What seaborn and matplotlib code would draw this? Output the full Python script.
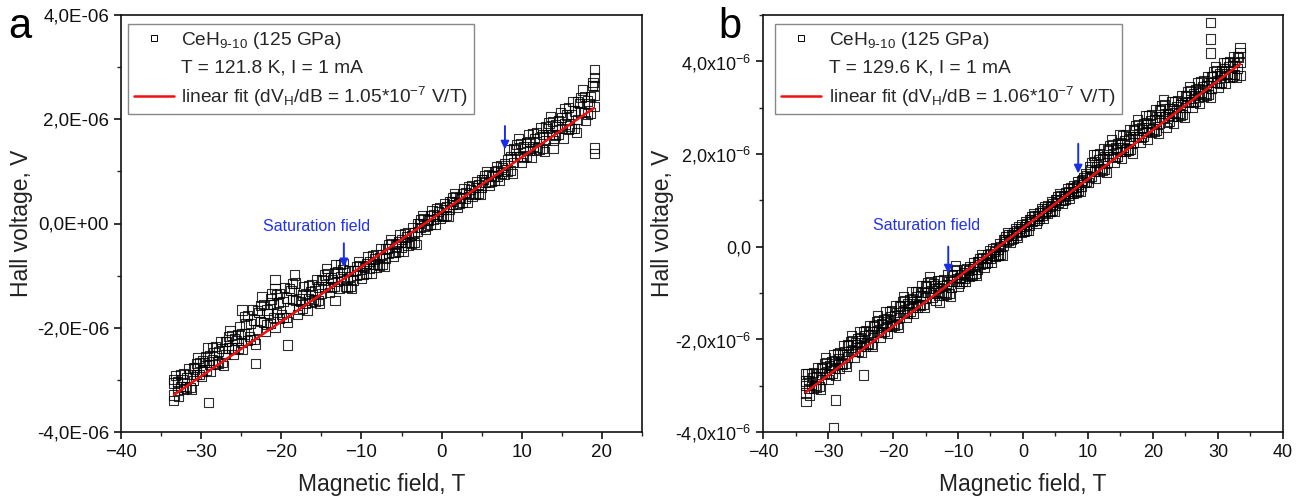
import numpy as np
import pandas as pd
import matplotlib
matplotlib.use("Agg")
import matplotlib.pyplot as plt
import seaborn as sns
from matplotlib.lines import Line2D
from matplotlib.ticker import FixedLocator, FixedFormatter, MultipleLocator

# ---------------- data (field in T, Hall voltage in microvolts) ----------------
FIELD_A = [-33.4, -33.0, -32.6, -32.2, -31.8, -31.4, -31.0, -30.6, -30.2, -29.8,
           -29.4, -29.0, -28.6, -28.2, -27.8, -27.4, -27.0, -26.6, -26.2, -25.8,
           -25.4, -25.0, -24.6, -24.2, -23.8, -23.4, -23.0, -22.6, -22.2, -21.8,
           -21.4, -21.0, -20.6, -20.2, -19.8, -19.4, -19.0, -18.6, -18.2, -17.8,
           -17.4, -17.0, -16.6, -16.2, -15.8, -15.4, -15.0, -14.6, -14.2, -13.8,
           -13.4, -13.0, -12.6, -12.2, -11.8, -11.4, -11.0, -10.6, -10.2, -9.8,
           -9.4, -9.0, -8.6, -8.2, -7.8, -7.4, -7.0, -6.6, -6.2, -5.8,
           -5.4, -5.0, -4.6, -4.2, -3.8, -3.4, -3.0, -2.6, -2.2, -1.8,
           -1.4, -1.0, -0.6, -0.2, 0.2, 0.6, 1.0, 1.4, 1.8, 2.2,
           2.6, 3.0, 3.4, 3.8, 4.2, 4.6, 5.0, 5.4, 5.8, 6.2,
           6.6, 7.0, 7.4, 7.8, 8.2, 8.6, 9.0, 9.4, 9.8, 10.2,
           10.6, 11.0, 11.4, 11.8, 12.2, 12.6, 13.0, 13.4, 13.8, 14.2,
           14.6, 15.0, 15.4, 15.8, 16.2, 16.6, 17.0, 17.4, 17.8, 18.2,
           18.6, 19.0]
HALL_A_UP = [-3.06, -3.20, -2.90, -3.19, -2.96, -3.14, -2.77, -2.89, -2.67, -2.83,
             -2.55, -2.71, -2.38, -2.70, -2.46, -2.66, -2.26, -2.39, -2.15, -2.41,
             -2.13, -2.29, -1.78, -2.25, -1.92, -2.22, -1.67, -1.88, -1.56, -1.94,
             -1.56, -1.80, -1.36, -1.83, -1.50, -1.80, -1.25, -1.46, -1.14, -1.65,
             -1.37, -1.53, -1.20, -1.52, -1.28, -1.48, -1.08, -1.21, -0.97, -1.23,
             -0.95, -1.11, -0.78, -1.10, -1.07, -1.21, -0.90, -0.99, -0.80, -0.98,
             -0.76, -0.87, -0.61, -0.84, -0.65, -0.79, -0.48, -0.57, -0.38, -0.56,
             -0.34, -0.45, -0.19, -0.42, -0.23, -0.37, 0.00, -0.07, 0.10, -0.04,
             0.15, 0.07, 0.28, 0.10, 0.27, 0.16, 0.42, 0.36, 0.52, 0.38,
             0.57, 0.49, 0.70, 0.52, 0.69, 0.58, 0.84, 0.78, 0.94, 0.80,
             0.99, 0.91, 1.12, 0.94, 1.22, 1.02, 1.43, 1.29, 1.53, 1.27,
             1.55, 1.40, 1.72, 1.40, 1.64, 1.44, 1.85, 1.71, 1.95, 1.69,
             1.97, 1.82, 2.21, 1.80, 2.09, 1.83, 2.33, 2.14, 2.43, 2.10,
             2.44, 2.24]
HALL_A_DOWN = [-3.29, -3.04, -3.12, -2.88, -3.16, -2.90, -3.01, -2.69, -2.89, -2.63,
               -2.81, -2.53, -2.62, -2.36, -2.68, -2.40, -2.52, -2.17, -2.39, -2.21,
               -2.39, -2.11, -2.12, -1.77, -2.23, -1.85, -2.04, -1.57, -1.90, -1.66,
               -1.92, -1.55, -1.70, -1.35, -1.81, -1.43, -1.62, -1.15, -1.48, -1.45,
               -1.63, -1.35, -1.44, -1.18, -1.50, -1.22, -1.34, -0.99, -1.21, -1.03,
               -1.21, -0.93, -1.02, -0.76, -1.23, -1.01, -1.09, -0.82, -0.98, -0.83,
               -0.95, -0.73, -0.79, -0.59, -0.81, -0.59, -0.67, -0.40, -0.56, -0.41,
               -0.53, -0.31, -0.37, -0.17, -0.39, -0.17, -0.16, 0.07, -0.05, 0.08,
               -0.01, 0.18, 0.13, 0.31, 0.13, 0.32, 0.27, 0.49, 0.37, 0.50,
               0.41, 0.60, 0.55, 0.73, 0.55, 0.74, 0.69, 0.91, 0.79, 0.92,
               0.83, 1.02, 0.97, 1.15, 1.00, 1.28, 1.17, 1.51, 1.29, 1.47,
               1.29, 1.58, 1.48, 1.74, 1.42, 1.70, 1.59, 1.93, 1.71, 1.89,
               1.71, 2.04, 1.91, 2.22, 1.82, 2.16, 2.00, 2.42, 2.13, 2.35,
               2.12, 2.46]
FIELD_A3 = [-33.2, -32.8, -32.4, -32.0, -31.6, -31.2, -30.8, -30.4, -30.0, -29.6,
            -29.2, -28.8, -28.4, -28.0, -27.6, -27.2, -26.8, -26.4, -26.0, -25.6,
            -25.2, -24.8, -24.4, -24.0, -23.6, -23.2, -22.8, -22.4, -22.0, -21.6,
            -21.2, -20.8, -20.4, -20.0, -19.6, -19.2, -18.8, -18.4, -18.0, -17.6,
            -17.2, -16.8, -16.4, -16.0, -15.6, -15.2, -14.8, -14.4, -14.0, -13.6,
            -13.2, -12.8, -12.4, -12.0, -11.6, -11.2, -10.8, -10.4, -10.0, -9.6,
            -9.2, -8.8, -8.4, -8.0, -7.6, -7.2, -6.8, -6.4, -6.0, -5.6,
            -5.2, -4.8, -4.4, -4.0, -3.6, -3.2, -2.8, -2.4, -2.0, -1.6,
            -1.2, -0.8, -0.4, 0.0, 0.4, 0.8, 1.2, 1.6, 2.0, 2.4,
            2.8, 3.2, 3.6, 4.0, 4.4, 4.8, 5.2, 5.6, 6.0, 6.4,
            6.8, 7.2, 7.6, 8.0, 8.4, 8.8, 9.2, 9.6, 10.0, 10.4,
            10.8, 11.2, 11.6, 12.0, 12.4, 12.8, 13.2, 13.6, 14.0, 14.4,
            14.8, 15.2, 15.6, 16.0, 16.4, 16.8, 17.2, 17.6, 18.0, 18.4,
            18.8]
HALL_A3 = [-2.91, -3.32, -2.99, -3.13, -2.78, -3.19, -2.79, -2.58, -2.93, -2.67,
           -2.39, -2.84, -2.48, -2.64, -2.26, -2.72, -2.27, -2.05, -2.51, -2.25,
           -1.97, -2.42, -1.93, -2.17, -1.65, -2.31, -1.71, -1.41, -2.07, -1.72,
           -1.34, -2.00, -1.51, -1.75, -1.23, -1.89, -1.29, -0.99, -1.75, -1.49,
           -1.21, -1.66, -1.30, -1.46, -1.08, -1.54, -1.09, -0.87, -1.33, -1.07,
           -0.79, -1.24, -0.88, -1.21, -0.91, -1.25, -0.90, -0.73, -1.06, -0.85,
           -0.63, -0.96, -0.68, -0.79, -0.49, -0.83, -0.48, -0.31, -0.64, -0.43,
           -0.21, -0.54, -0.26, -0.37, -0.07, -0.41, 0.00, 0.15, -0.11, 0.06,
           0.25, -0.01, 0.23, 0.15, 0.39, 0.14, 0.42, 0.57, 0.31, 0.48,
           0.67, 0.41, 0.65, 0.57, 0.81, 0.56, 0.84, 0.99, 0.73, 0.90,
           1.09, 0.83, 1.07, 1.04, 1.42, 0.96, 1.41, 1.63, 1.17, 1.43,
           1.71, 1.26, 1.62, 1.46, 1.84, 1.38, 1.83, 2.05, 1.59, 1.85,
           2.13, 1.64, 2.08, 1.87, 2.34, 1.75, 2.30, 2.56, 1.98, 2.30,
           2.64]
OUT_A_FIELD = [-29.1, -20.8, -20.8, -21.3, -19.2, -23.2, -24.9, -13.3, 13.9, 19.1,
               19.1, 19.1, 19.1, 19.1, -33.5, -33.5, 18.9]
OUT_A_HALL = [-3.43, -1.08, -1.24, -1.45, -2.33, -2.68, -1.66, -1.47, 1.45, 2.95,
              2.80, 2.65, 1.45, 1.35, -3.40, -3.00, 2.70]

FIELD_B = [-33.4, -33.0, -32.6, -32.2, -31.8, -31.4, -31.0, -30.6, -30.2, -29.8,
           -29.4, -29.0, -28.6, -28.2, -27.8, -27.4, -27.0, -26.6, -26.2, -25.8,
           -25.4, -25.0, -24.6, -24.2, -23.8, -23.4, -23.0, -22.6, -22.2, -21.8,
           -21.4, -21.0, -20.6, -20.2, -19.8, -19.4, -19.0, -18.6, -18.2, -17.8,
           -17.4, -17.0, -16.6, -16.2, -15.8, -15.4, -15.0, -14.6, -14.2, -13.8,
           -13.4, -13.0, -12.6, -12.2, -11.8, -11.4, -11.0, -10.6, -10.2, -9.8,
           -9.4, -9.0, -8.6, -8.2, -7.8, -7.4, -7.0, -6.6, -6.2, -5.8,
           -5.4, -5.0, -4.6, -4.2, -3.8, -3.4, -3.0, -2.6, -2.2, -1.8,
           -1.4, -1.0, -0.6, -0.2, 0.2, 0.6, 1.0, 1.4, 1.8, 2.2,
           2.6, 3.0, 3.4, 3.8, 4.2, 4.6, 5.0, 5.4, 5.8, 6.2,
           6.6, 7.0, 7.4, 7.8, 8.2, 8.6, 9.0, 9.4, 9.8, 10.2,
           10.6, 11.0, 11.4, 11.8, 12.2, 12.6, 13.0, 13.4, 13.8, 14.2,
           14.6, 15.0, 15.4, 15.8, 16.2, 16.6, 17.0, 17.4, 17.8, 18.2,
           18.6, 19.0, 19.4, 19.8, 20.2, 20.6, 21.0, 21.4, 21.8, 22.2,
           22.6, 23.0, 23.4, 23.8, 24.2, 24.6, 25.0, 25.4, 25.8, 26.2,
           26.6, 27.0, 27.4, 27.8, 28.2, 28.6, 29.0, 29.4, 29.8, 30.2,
           30.6, 31.0, 31.4, 31.8, 32.2, 32.6, 33.0, 33.4]
HALL_B_UP = [-2.90, -3.06, -2.74, -3.05, -2.81, -3.01, -2.61, -2.74, -2.50, -2.76,
             -2.48, -2.63, -2.31, -2.63, -2.33, -2.52, -2.12, -2.26, -2.02, -2.27,
             -1.99, -2.15, -1.83, -2.15, -1.90, -2.10, -1.70, -1.84, -1.59, -1.85,
             -1.57, -1.73, -1.40, -1.72, -1.48, -1.68, -1.27, -1.41, -1.17, -1.43,
             -1.14, -1.30, -0.98, -1.30, -1.05, -1.25, -0.85, -0.99, -0.75, -1.00,
             -0.90, -1.06, -0.74, -1.05, -0.81, -1.01, -0.61, -0.74, -0.50, -0.79,
             -0.60, -0.68, -0.47, -0.65, -0.48, -0.58, -0.33, -0.39, -0.23, -0.37,
             -0.18, -0.26, -0.05, -0.22, -0.06, -0.16, 0.16, 0.11, 0.26, 0.15,
             0.31, 0.25, 0.44, 0.30, 0.44, 0.36, 0.59, 0.54, 0.68, 0.57,
             0.74, 0.68, 0.86, 0.72, 0.87, 0.79, 1.01, 0.96, 1.11, 1.00,
             1.16, 1.10, 1.28, 1.15, 1.29, 1.21, 1.43, 1.39, 1.53, 1.50,
             1.81, 1.63, 1.98, 1.63, 1.89, 1.67, 2.10, 1.95, 2.21, 1.92,
             2.23, 2.05, 2.40, 2.05, 2.31, 2.09, 2.53, 2.37, 2.64, 2.35,
             2.65, 2.48, 2.83, 2.47, 2.74, 2.51, 2.95, 2.80, 3.06, 2.68,
             2.97, 2.81, 3.13, 2.81, 3.06, 2.86, 3.26, 3.12, 3.37, 3.11,
             3.39, 3.23, 3.56, 3.24, 3.48, 3.28, 3.68, 3.55, 3.79, 3.53,
             3.81, 3.66, 3.98, 3.66, 3.90, 3.71, 4.11, 3.97]
HALL_B_DOWN = [-3.16, -2.88, -2.98, -2.71, -3.03, -2.75, -2.87, -2.52, -2.74, -2.56,
               -2.74, -2.45, -2.55, -2.29, -2.55, -2.26, -2.38, -2.04, -2.26, -2.07,
               -2.25, -1.97, -2.07, -1.81, -2.12, -1.84, -1.96, -1.62, -1.83, -1.65,
               -1.83, -1.55, -1.64, -1.38, -1.70, -1.42, -1.53, -1.19, -1.41, -1.23,
               -1.40, -1.12, -1.22, -0.96, -1.27, -0.99, -1.11, -0.77, -0.99, -0.80,
               -1.16, -0.88, -0.98, -0.71, -1.03, -0.75, -0.87, -0.52, -0.74, -0.67,
               -0.76, -0.57, -0.62, -0.44, -0.62, -0.43, -0.48, -0.26, -0.37, -0.25,
               -0.34, -0.15, -0.19, -0.02, -0.19, 0.00, 0.03, 0.22, 0.14, 0.25,
               0.18, 0.34, 0.32, 0.47, 0.33, 0.49, 0.46, 0.65, 0.56, 0.67,
               0.61, 0.77, 0.74, 0.89, 0.76, 0.92, 0.88, 1.07, 0.99, 1.10,
               1.03, 1.19, 1.16, 1.32, 1.18, 1.34, 1.30, 1.50, 1.41, 1.72,
               1.52, 1.83, 1.72, 2.00, 1.65, 1.95, 1.82, 2.19, 1.95, 2.14,
               1.94, 2.25, 2.14, 2.42, 2.07, 2.38, 2.24, 2.62, 2.37, 2.57,
               2.37, 2.67, 2.56, 2.85, 2.49, 2.80, 2.67, 3.04, 2.80, 2.88,
               2.71, 2.99, 2.89, 3.15, 2.84, 3.12, 3.00, 3.34, 3.13, 3.31,
               3.13, 3.41, 3.32, 3.58, 3.26, 3.54, 3.42, 3.77, 3.55, 3.73,
               3.55, 3.84, 3.74, 4.00, 3.68, 3.97, 3.85, 4.19]
FIELD_B3 = [-33.2, -32.8, -32.4, -32.0, -31.6, -31.2, -30.8, -30.4, -30.0, -29.6,
            -29.2, -28.8, -28.4, -28.0, -27.6, -27.2, -26.8, -26.4, -26.0, -25.6,
            -25.2, -24.8, -24.4, -24.0, -23.6, -23.2, -22.8, -22.4, -22.0, -21.6,
            -21.2, -20.8, -20.4, -20.0, -19.6, -19.2, -18.8, -18.4, -18.0, -17.6,
            -17.2, -16.8, -16.4, -16.0, -15.6, -15.2, -14.8, -14.4, -14.0, -13.6,
            -13.2, -12.8, -12.4, -12.0, -11.6, -11.2, -10.8, -10.4, -10.0, -9.6,
            -9.2, -8.8, -8.4, -8.0, -7.6, -7.2, -6.8, -6.4, -6.0, -5.6,
            -5.2, -4.8, -4.4, -4.0, -3.6, -3.2, -2.8, -2.4, -2.0, -1.6,
            -1.2, -0.8, -0.4, 0.0, 0.4, 0.8, 1.2, 1.6, 2.0, 2.4,
            2.8, 3.2, 3.6, 4.0, 4.4, 4.8, 5.2, 5.6, 6.0, 6.4,
            6.8, 7.2, 7.6, 8.0, 8.4, 8.8, 9.2, 9.6, 10.0, 10.4,
            10.8, 11.2, 11.6, 12.0, 12.4, 12.8, 13.2, 13.6, 14.0, 14.4,
            14.8, 15.2, 15.6, 16.0, 16.4, 16.8, 17.2, 17.6, 18.0, 18.4,
            18.8, 19.2, 19.6, 20.0, 20.4, 20.8, 21.2, 21.6, 22.0, 22.4,
            22.8, 23.2, 23.6, 24.0, 24.4, 24.8, 25.2, 25.6, 26.0, 26.4,
            26.8, 27.2, 27.6, 28.0, 28.4, 28.8, 29.2, 29.6, 30.0, 30.4,
            30.8, 31.2, 31.6, 32.0, 32.4, 32.8, 33.2]
HALL_B3 = [-2.74, -3.20, -2.83, -2.99, -2.61, -3.07, -2.63, -2.40, -2.86, -2.60,
           -2.32, -2.77, -2.41, -2.51, -2.13, -2.58, -2.14, -1.92, -2.38, -2.11,
           -1.83, -2.29, -1.93, -2.08, -1.70, -2.16, -1.72, -1.49, -1.95, -1.69,
           -1.41, -1.87, -1.50, -1.66, -1.28, -1.74, -1.29, -1.07, -1.53, -1.27,
           -0.98, -1.44, -1.08, -1.24, -0.85, -1.31, -0.87, -0.65, -1.10, -0.84,
           -0.74, -1.20, -0.83, -0.99, -0.61, -1.07, -0.63, -0.40, -0.86, -0.69,
           -0.50, -0.76, -0.52, -0.60, -0.35, -0.61, -0.33, -0.18, -0.44, -0.26,
           -0.08, -0.33, -0.10, -0.18, 0.07, -0.19, 0.16, 0.30, 0.09, 0.24,
           0.40, 0.20, 0.40, 0.34, 0.55, 0.35, 0.59, 0.72, 0.51, 0.66,
           0.83, 0.62, 0.82, 0.76, 0.98, 0.77, 1.01, 1.14, 0.94, 1.09,
           1.25, 1.04, 1.25, 1.19, 1.40, 1.19, 1.44, 1.57, 1.39, 1.67,
           1.98, 1.47, 1.87, 1.69, 2.11, 1.60, 2.08, 2.32, 1.81, 2.10,
           2.41, 1.90, 2.29, 2.11, 2.53, 2.02, 2.51, 2.75, 2.24, 2.52,
           2.83, 2.32, 2.72, 2.54, 2.95, 2.45, 2.93, 3.17, 2.58, 2.84,
           3.13, 2.67, 3.03, 2.87, 3.26, 2.80, 3.24, 3.46, 3.01, 3.27,
           3.55, 3.09, 3.46, 3.30, 3.68, 3.22, 3.67, 3.89, 3.43, 3.69,
           3.98, 3.52, 3.88, 3.72, 4.10, 3.65, 4.09]
OUT_B_FIELD = [28.9, 28.9, 28.9, -28.9, -29.1, -24.6, -33.4, -33.4, -33.4, 33.4, 33.4]
OUT_B_HALL = [4.83, 4.48, 4.18, -3.31, -3.90, -2.77, -2.75, -3.35, -3.00, 4.30, 3.70]

# linear fit parameters (slope in V/T, intercept in V)
SLOPE_A, INTERCEPT_A = 1.05e-7, 0.22e-6
SLOPE_B, INTERCEPT_B = 1.06e-7, 0.40e-6

Y_TICKS = [-4e-6, -2e-6, 0.0, 2e-6, 4e-6]
Y_LABELS_A = ["-4,0E-06", "-2,0E-06", "0,0E+00", "2,0E-06", "4,0E-06"]
Y_LABELS_B = ["-4,0x10$^{-6}$", "-2,0x10$^{-6}$", "0,0", "2,0x10$^{-6}$", "4,0x10$^{-6}$"]
X_TICKS_A = [-40, -30, -20, -10, 0, 10, 20]
X_TICKS_B = [-40, -30, -20, -10, 0, 10, 20, 30, 40]

# ---------------- style ----------------
sns.set_style("ticks")
plt.rcParams["font.family"] = ["Liberation Sans", "DejaVu Sans"]
plt.rcParams["mathtext.default"] = "regular"
plt.rcParams["axes.linewidth"] = 1.2

fig = plt.figure(figsize=(13.03, 5.0), dpi=100)
ax_a = fig.add_axes([0.0929, 0.136, 0.3998, 0.834])
ax_b = fig.add_axes([0.5856, 0.136, 0.3990, 0.834])

RED = "#f01010"


def make_frame(field, hall):
    return pd.DataFrame({"field": np.asarray(field, float),
                         "hall": np.asarray(hall, float) * 1e-6})


def draw_panel(ax, sweeps, slope, intercept, xlim, ylim, xticks, ylabels,
               temp_text, fit_text, sat_xy, arrows, leg_anchor, ylabelpad,
               ticksize):
    df = pd.concat([make_frame(f, h) for f, h in sweeps], ignore_index=True)
    sns.scatterplot(data=df, x="field", y="hall", ax=ax, marker="s", s=44,
                    color="black", linewidth=0.8, legend=False, zorder=2)
    for coll in ax.collections:
        coll.set_facecolor("none")
        coll.set_edgecolor((0, 0, 0, 0.82))
    fx = np.array([min(sweeps[0][0]), max(sweeps[0][0])])
    fit = pd.DataFrame({"field": fx, "hall": slope * fx + intercept})
    sns.lineplot(data=fit, x="field", y="hall", ax=ax, color=RED,
                 linewidth=1.8, zorder=3)

    ax.set_xlim(*xlim)
    ax.set_ylim(*ylim)
    ax.xaxis.set_major_locator(FixedLocator(xticks))
    ax.xaxis.set_minor_locator(MultipleLocator(5))
    ax.yaxis.set_major_locator(FixedLocator(Y_TICKS))
    ax.yaxis.set_major_formatter(FixedFormatter(ylabels))
    ax.yaxis.set_minor_locator(MultipleLocator(1e-6))
    ax.tick_params(which="major", direction="out", length=5, width=1.2,
                   labelsize=ticksize, colors="#111111")
    ax.tick_params(which="minor", direction="out", length=3, width=1.0)
    for sp in ax.spines.values():
        sp.set_visible(True)
        sp.set_linewidth(1.2)
        sp.set_color("#111111")
    ax.set_xlabel("Magnetic field, T", fontsize=16.5, color="#222222", labelpad=9)
    ax.set_ylabel("Hall voltage, V", fontsize=16.5, color="#222222",
                  labelpad=ylabelpad)

    ax.text(sat_xy[0], sat_xy[1], "Saturation field", color="#2233ee",
            fontsize=11.5, ha="center", va="center")
    for (x0, y0, y1) in arrows:
        ax.annotate("", xy=(x0, y1), xytext=(x0, y0),
                    arrowprops=dict(arrowstyle="-|>", color="#1a2ee8", lw=1.4,
                                    mutation_scale=12, shrinkA=0, shrinkB=0))

    handles = [Line2D([], [], marker="s", linestyle="none", markersize=4,
                      markerfacecolor="none", markeredgecolor="black",
                      markeredgewidth=0.7),
               Line2D([], [], linestyle="none"),
               Line2D([], [], color=RED, linewidth=1.8)]
    labels = [r"CeH$_{9\text{-}10}$ (125 GPa)", temp_text, fit_text]
    leg = ax.legend(handles, labels, loc="upper left", bbox_to_anchor=leg_anchor,
                    fontsize=13.8, frameon=True, fancybox=False, framealpha=1,
                    edgecolor="#888888", handlelength=2.1, handletextpad=0.4,
                    labelspacing=0.42, borderpad=0.3, borderaxespad=0.0)
    leg.get_frame().set_linewidth(1.0)


draw_panel(ax_a, [(FIELD_A, HALL_A_UP), (FIELD_A, HALL_A_DOWN),
                  (FIELD_A3, HALL_A3), (OUT_A_FIELD, OUT_A_HALL)],
           SLOPE_A, INTERCEPT_A, (-40, 25), (-4e-6, 4e-6), X_TICKS_A, Y_LABELS_A,
           "T = 121.8 K, I = 1 mA", "linear fit (dV$_H$/dB = 1.05*10$^{-7}$ V/T)",
           (-15.6, -0.05e-6), [(-12.2, -0.38e-6, -0.84e-6), (7.9, 1.87e-6, 1.42e-6)],
           (0.013, 0.978), 3, 13.5)
draw_panel(ax_b, [(FIELD_B, HALL_B_UP), (FIELD_B, HALL_B_DOWN),
                  (FIELD_B3, HALL_B3), (OUT_B_FIELD, OUT_B_HALL)],
           SLOPE_B, INTERCEPT_B, (-40, 40), (-4e-6, 5e-6), X_TICKS_B, Y_LABELS_B,
           "T = 129.6 K, I = 1 mA", "linear fit (dV$_H$/dB = 1.06*10$^{-7}$ V/T)",
           (-14.8, 0.45e-6), [(-11.5, 0.0e-6, -0.58e-6), (8.5, 2.22e-6, 1.58e-6)],
           (0.023, 0.978), 1, 13)

fig.text(8 / 1303, 1 - 38 / 500, "a", fontsize=30, color="black", ha="left",
         va="baseline")
fig.text(718 / 1303, 1 - 38 / 500, "b", fontsize=30, color="black", ha="left",
         va="baseline")

fig.savefig("out.png", dpi=100, facecolor="white")
